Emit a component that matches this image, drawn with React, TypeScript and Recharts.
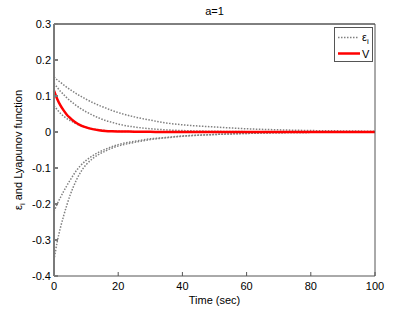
import React from "react";
import { LineChart, Line, XAxis, YAxis, Legend } from "recharts";

// time samples (sec)
const time = [0, 1, 2, 3, 4, 5, 6, 7, 8, 10, 12, 14, 16, 18, 20, 25, 30, 35, 40, 50, 60, 70, 80, 90, 100];

// error states e_i (dotted gray)
const e1 = [0.153, 0.145, 0.138, 0.131, 0.124, 0.118, 0.112, 0.106, 0.101, 0.091, 0.082, 0.074, 0.067, 0.06, 0.054, 0.042, 0.033, 0.025, 0.02, 0.014, 0.009, 0.006, 0.004, 0.003, 0.002];
const e2 = [0.135, 0.124, 0.113, 0.104, 0.095, 0.087, 0.08, 0.073, 0.067, 0.056, 0.047, 0.039, 0.032, 0.027, 0.022, 0.014, 0.009, 0.006, 0.004, 0.002, 0.001, 0.0005, 0, 0, 0];
const e3 = [0.073, 0.062, 0.052, 0.044, 0.037, 0.032, 0.027, 0.022, 0.019, 0.013, 0.009, 0.006, 0.004, 0.003, 0.002, 0.001, 0, 0, 0, 0, 0, 0, 0, 0, 0];
const e4 = [-0.221, -0.2, -0.182, -0.165, -0.149, -0.134, -0.12, -0.107, -0.096, -0.079, -0.066, -0.056, -0.048, -0.041, -0.035, -0.026, -0.019, -0.015, -0.011, -0.007, -0.004, -0.002, -0.001, -0.0005, 0];
const e5 = [-0.356, -0.305, -0.266, -0.233, -0.203, -0.176, -0.153, -0.133, -0.116, -0.091, -0.074, -0.062, -0.053, -0.045, -0.039, -0.029, -0.021, -0.016, -0.012, -0.007, -0.004, -0.002, -0.001, -0.0005, 0];

// Lyapunov function V (red)
const lyap = [0.115, 0.092, 0.074, 0.06, 0.048, 0.039, 0.031, 0.025, 0.02, 0.013, 0.008, 0.005, 0.003, 0.002, 0.0015, 0.001, 0.0005, 0, 0, 0, 0, 0, 0, 0, 0];

const xTicks = [0, 20, 40, 60, 80, 100];
const yTicks = [-0.4, -0.3, -0.2, -0.1, 0, 0.1, 0.2, 0.3];

const rows = time.map((t, i) => ({
  t,
  e1: e1[i],
  e2: e2[i],
  e3: e3[i],
  e4: e4[i],
  e5: e5[i],
  V: lyap[i],
}));

const font = "'Liberation Sans', Arial, sans-serif";
const tickStyle = { fontSize: 11, fill: "#000", fontFamily: font };
const gray = "#808080";
const dots = "1.5 1.5";

const YLabel = () => (
  <text
    x={22}
    y={150}
    transform="rotate(-90, 22, 150)"
    textAnchor="middle"
    fontSize={11}
    fontFamily={font}
    fill="#000"
  >
    ε<tspan fontSize={8} dy={3}>i</tspan>
    <tspan dy={-3}> and Lyapunov function</tspan>
  </text>
);

const LegendBox = () => (
  <svg width={40} height={36} style={{ display: "block" }}>
    <rect x={0.5} y={0.5} width={38} height={34} fill="#fff" stroke="#555" />
    <line x1={4} x2={25} y1={10.5} y2={10.5} stroke={gray} strokeWidth={1.5} strokeDasharray={dots} />
    <text x={28} y={14} fontSize={11} fontFamily={font} fill="#000">
      ε<tspan fontSize={8} dy={3}>i</tspan>
    </text>
    <line x1={4} x2={26} y1={26.5} y2={26.5} stroke="#ff0000" strokeWidth={2.5} />
    <text x={28} y={31} fontSize={11} fontFamily={font} fill="#000">
      V
    </text>
  </svg>
);

export default function App() {
  return (
    <div style={{ position: "absolute", left: 0, top: 0, background: "#fff" }}>
      <LineChart
        width={415}
        height={312}
        data={rows}
        margin={{ top: 23, right: 39, bottom: 6, left: 0 }}
      >
        <XAxis
          xAxisId="bottom"
          dataKey="t"
          type="number"
          domain={[0, 100]}
          ticks={xTicks}
          height={30}
          tickSize={-4}
          tickMargin={10}
          tick={tickStyle}
          stroke="#555"
          label={{ value: "Time (sec)", position: "insideBottom", offset: 2, fontSize: 11, fill: "#000", fontFamily: font }}
        />
        <XAxis
          xAxisId="top"
          orientation="top"
          dataKey="t"
          type="number"
          domain={[0, 100]}
          ticks={xTicks}
          height={1}
          tickSize={-4}
          tick={false}
          stroke="#000"
          label={{ value: "a=1", position: "top", offset: 8, fontSize: 11, fill: "#000", fontFamily: font }}
        />
        <YAxis
          yAxisId="left"
          type="number"
          domain={[-0.4, 0.3]}
          ticks={yTicks}
          width={54}
          tickSize={-4}
          tickMargin={7}
          tick={tickStyle}
          tickFormatter={(v: number) => String(v)}
          stroke="#7a7a7a"
          strokeWidth={2}
          label={<YLabel />}
        />
        <YAxis
          yAxisId="right"
          orientation="right"
          type="number"
          domain={[-0.4, 0.3]}
          ticks={yTicks}
          width={1}
          tickSize={-4}
          tick={false}
          stroke="#555"
        />
        {["e1", "e2", "e3", "e4", "e5"].map((k) => (
          <Line
            key={k}
            xAxisId="bottom"
            yAxisId="left"
            dataKey={k}
            type="monotone"
            stroke={gray}
            strokeWidth={1.5}
            strokeDasharray={dots}
            dot={false}
            isAnimationActive={false}
          />
        ))}
        <Line
          xAxisId="bottom"
          yAxisId="left"
          dataKey="V"
          type="monotone"
          stroke="#ff0000"
          strokeWidth={2.5}
          dot={false}
          isAnimationActive={false}
        />
        <Legend
          layout="vertical"
          align="center"
          verticalAlign="middle"
          content={() => <LegendBox />}
          wrapperStyle={{ left: 334, top: 27, width: 40, height: 36 }}
        />
      </LineChart>
    </div>
  );
}
